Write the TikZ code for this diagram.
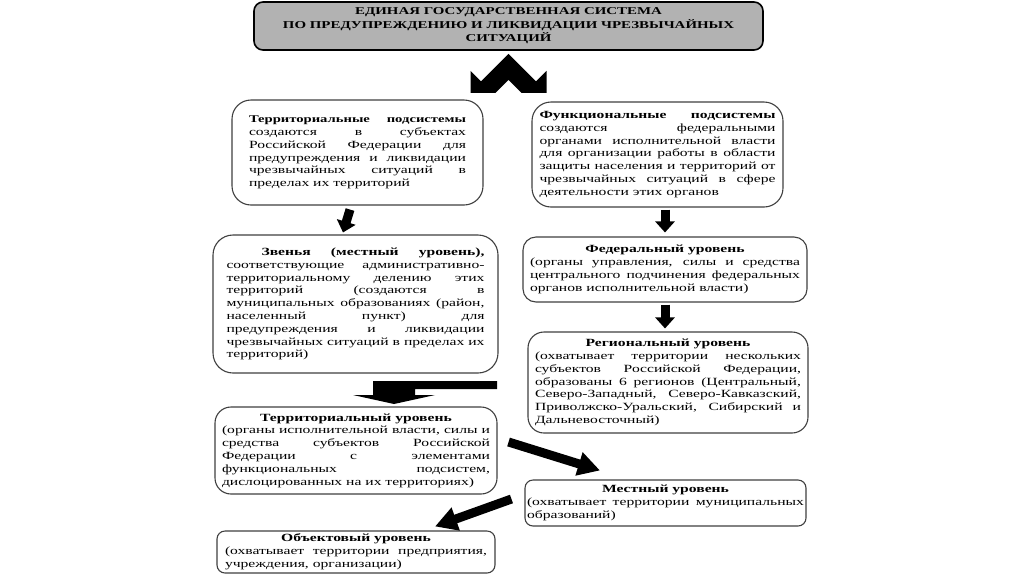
\documentclass[tikz,border=0pt]{standalone}
\usepackage{fontspec}
\setmainfont{Liberation Serif}[FakeStretch=1.42]
\usetikzlibrary{arrows.meta}

\begin{document}
\begin{tikzpicture}[x=1pt, y=-1pt,
	levelbox/.style={draw=black!75, line width=1.1pt, fill=white, rounded corners=#1,
		inner sep=0pt, align=justify, font=\fontsize{11}{12.8}\selectfont},
	levelbox/.default=15pt,
	titlebox/.style={draw=black, line width=1.6pt, fill=black!30, rounded corners=9pt,
		inner sep=0pt, align=center, font=\fontsize{10.5}{13.5}\selectfont\bfseries},
	blockarrow/.style={line width=9pt, -{Triangle[length=11pt, width=19pt]}},
	slantarrow/.style={line width=9pt, -{Triangle[length=22pt, width=23pt]}}]
	\path[fill=white] (0,0) rectangle (1024,574);
	\useasboundingbox (0,0) rectangle (1024,574);
		% header
		\node[titlebox, minimum width=509pt, minimum height=48pt] (title) at (508.5,26)
			{ЕДИНАЯ ГОСУДАРСТВЕННАЯ СИСТЕМА\\ПО ПРЕДУПРЕЖДЕНИЮ И ЛИКВИДАЦИИ ЧРЕЗВЫЧАЙНЫХ\\СИТУАЦИЙ};
		% two subsystems
		\node[levelbox=19pt, minimum width=251pt, minimum height=105pt, text width=217pt] (terrsub) at (357.5,152.5)
			{{\fontsize{10.3}{12.8}\selectfont\textbf{Территориальные подсистемы}}\linebreak создаются в субъектах\linebreak
			Российской Федерации для\linebreak предупреждения и ликвидации\linebreak
			чрезвычайных ситуаций в\linebreak пределах их территорий};
		\node[levelbox=19pt, minimum width=251pt, minimum height=105pt, text width=236pt] (funcsub) at (657.5,154.5)
			{\textbf{Функциональные подсистемы}\linebreak создаются федеральными\linebreak
			органами исполнительной власти\linebreak для организации работы в области\linebreak
			защиты населения и территорий от\linebreak чрезвычайных ситуаций в сфере\linebreak
			деятельности этих органов};
		% left column
		\node[levelbox=20pt, minimum width=285pt, minimum height=138pt, text width=258pt] (links) at (355.5,304)
			{\hspace*{35pt}\textbf{Звенья (местный уровень),}\linebreak соответствующие административно-\linebreak
			территориальному делению этих\linebreak территорий (создаются в\linebreak
			муниципальных образованиях (район,\linebreak населенный пункт) для\linebreak
			предупреждения и ликвидации\linebreak чрезвычайных ситуаций в пределах их\linebreak
			территорий)};
		% right column
		\node[levelbox=13pt, minimum width=284pt, minimum height=65pt, text width=270pt] (federal) at (665,269.5)
			{{\centering\textbf{Федеральный уровень}\par}
			(органы управления, силы и средства\linebreak центрального подчинения федеральных\linebreak
			органов исполнительной власти)};
		\node[levelbox=16pt, minimum width=280pt, minimum height=101pt, text width=266pt] (regional) at (668,382.5)
			{{\centering\textbf{Региональный уровень}\par}
			(охватывает территории нескольких\linebreak субъектов Российской Федерации,\linebreak
			образованы 6 регионов (Центральный,\linebreak Северо-Западный, Северо-Кавказский,\linebreak
			Приволжско-Уральский, Сибирский и\linebreak Дальневосточный)};
		% lower levels
		\node[levelbox=16pt, minimum width=282pt, minimum height=87pt, text width=268pt] (territorial) at (356,450.5)
			{{\centering\textbf{Территориальный уровень}\par}
			(органы исполнительной власти, силы и\linebreak средства субъектов Российской\linebreak
			Федерации с элементами\linebreak функциональных подсистем,\linebreak
			дислоцированных на их территориях)};
		\node[levelbox=8pt, minimum width=281pt, minimum height=46pt, text width=277pt] (local) at (665.5,503)
			{{\centering\textbf{Местный уровень}\par}
			(охватывает территории муниципальных\linebreak образований)};
		\node[levelbox=8pt, minimum width=278pt, minimum height=42pt, text width=262pt] (object) at (356,552)
			{{\centering\textbf{Объектовый уровень}\par}
			(охватывает территории предприятия,\linebreak учреждения, организации)};
		% fork under the header
		\coordinate (fork) at ([yshift=-3pt]title.south);
		\fill[shift={(fork)}] (0,0) -- (-27.5,27.5) -- (-38,17) -- (-38,39) -- (-13,39)
			-- (0,26) -- (13,39) -- (38,39) -- (38,17) -- (27.5,27.5) -- cycle;
		% arrows between levels
		\draw[blockarrow] ([xshift=-7.5pt, yshift=-4pt]terrsub.south) -- ([xshift=-12.5pt, yshift=2pt]links.north);
		\draw[blockarrow] ([xshift=7.5pt, yshift=-2pt]funcsub.south) -- ([yshift=4pt]federal.north);
		\draw[blockarrow] ([yshift=-2pt]federal.south) -- ([xshift=-3pt, yshift=3pt]regional.north);
		\fill (497,381) -- (373,381) -- (373,395) -- (353,395) -- (394,404) -- (435,395)
			-- (415,395) -- (415,389) -- (497,389) -- cycle;
		\draw[slantarrow] ([xshift=11pt, yshift=8.5pt]territorial.east) -- ([xshift=-65.5pt, yshift=9pt]local.north);
		\draw[slantarrow] ([xshift=-13pt, yshift=4pt]local.west) -- ([xshift=79pt, yshift=4pt]object.north);
	\end{tikzpicture}
\end{document}
